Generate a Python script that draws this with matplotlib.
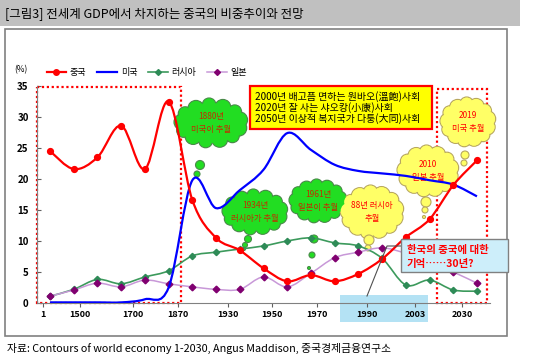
import numpy as np
import matplotlib
matplotlib.use("Agg")
import matplotlib.pyplot as plt
from matplotlib.path import Path
from matplotlib.patches import PathPatch, Rectangle, Circle, Ellipse
from matplotlib.lines import Line2D
from matplotlib.transforms import Affine2D

plt.rcParams['font.family'] = ['Noto Sans CJK KR', 'DejaVu Sans']

# share of world GDP (%)
china = [24.5, 21.6, 23.5, 28.6, 21.6, 32.5, 16.6, 10.5, 8.5, 5.6, 3.5, 4.5, 3.5, 4.7, 7.1, 10.6, 13.5, 19.0, 23.0]
usa = [0.1, 0.1, 0.1, 0.1, 0.6, 2.5, 19.8, 15.3, 18.2, 21.5, 27.4, 24.7, 22.3, 21.3, 20.9, 20.5, 19.8, 19.1, 17.2]
russia = [1.1, 2.2, 3.8, 3.1, 4.2, 5.2, 7.6, 8.2, 8.7, 9.2, 10.0, 10.5, 9.7, 9.2, 7.2, 2.9, 3.7, 2.1, 1.9]
japan = [1.1, 2.1, 3.2, 2.6, 3.7, 3.1, 2.6, 2.2, 2.2, 4.2, 2.6, 4.8, 7.3, 8.2, 8.9, 8.0, 6.5, 5.0, 3.2]
names = ['중국', '미국', '러시아', '일본']
xlabels = ['1', '1500', '1700', '1870', '1930', '1950', '1970', '1990', '2003', '2030']
xtick_pos = [-0.3, 1.26, 3.5, 5.4, 7.5, 9.36, 11.26, 13.36, 15.39, 17.37]

idx = np.arange(len(china))


def smooth(x, y):
    # excel-like smoothed line as cubic bezier segments
    verts = [(x[0], y[0])]
    codes = [Path.MOVETO]
    n = len(x)
    for i in range(n - 1):
        x0, y0 = (x[i - 1], y[i - 1]) if i > 0 else (x[i], y[i])
        x3, y3 = (x[i + 2], y[i + 2]) if i + 2 < n else (x[i + 1], y[i + 1])
        c1 = (x[i] + (x[i + 1] - x0) / 6, y[i] + (y[i + 1] - y0) / 6)
        c2 = (x[i + 1] - (x3 - x[i]) / 6, y[i + 1] - (y3 - y[i]) / 6)
        verts += [c1, c2, (x[i + 1], y[i + 1])]
        codes += [Path.CURVE4] * 3
    return Path(verts, codes)


fig = plt.figure(figsize=(5.34, 3.59), dpi=100)
px = Affine2D().scale(1 / 534, -1 / 359).translate(0, 1) + fig.transFigure

ax = fig.add_axes([37 / 534, (359 - 303) / 359, (490 - 37) / 534, (303 - 86) / 359])
ax.patch.set_visible(False)
ax.set_xlim(-0.55, 18.55)
ax.set_ylim(0, 35)

# frame, title bar, source
ax.add_patch(Rectangle((0, 0), 520, 26, transform=px, facecolor='#c0c0c0', edgecolor='none', clip_on=False, zorder=0))
ax.add_patch(Rectangle((5, 29), 502, 307, transform=px, facecolor='none', edgecolor='#808080', lw=1.2, clip_on=False, zorder=0))
ax.text(5, 14, '[그림3] 전세계 GDP에서 차지하는 중국의 비중추이와 전망', transform=px, fontsize=9, va='center', ha='left')
ax.text(7, 348, '자료: Contours of world economy 1-2030, Angus Maddison, 중국경제금융연구소', transform=px, fontsize=7.8, va='center', ha='left')

# highlighted band under 1990-2003
ax.add_patch(Rectangle((340, 295), 88, 27, transform=px, facecolor='#b4e2f4', edgecolor='none', clip_on=False, zorder=1))

# dotted red boxes
for (x0, y0, x1, y1) in [(37, 87, 181, 303), (437, 89, 487, 303)]:
    ax.add_patch(Rectangle((x0, y0), x1 - x0, y1 - y0, transform=px, facecolor='none', edgecolor='#ff0000',
                           lw=1.6, linestyle=(0, (1, 1.2)), clip_on=False, zorder=2))


def cloud(cx, cy, w, h, fc, ec, lines, tc, bubbles):
    a, b = w / 2, h / 2
    r = min(a, b) * 0.32
    lobes = []
    for k, t in enumerate(np.linspace(0, 2 * np.pi, 13, endpoint=False)):
        rr = r * (1.0 if k % 2 == 0 else 0.85)
        lobes.append((cx + (a - rr) * np.cos(t + 0.3), cy + (b - rr) * np.sin(t + 0.3), rr))
    for (lx, ly, rr) in lobes:
        ax.add_patch(Circle((lx, ly), rr, transform=px, facecolor=fc, edgecolor=ec, lw=0.9, clip_on=False, zorder=3))
    for (lx, ly, rr) in lobes:
        ax.add_patch(Circle((lx, ly), rr - 0.6, transform=px, facecolor=fc, edgecolor='none', clip_on=False, zorder=3.1))
    ax.add_patch(Ellipse((cx, cy), w - 2 * r + 6, h - 2 * r + 6, transform=px, facecolor=fc, edgecolor='none', clip_on=False, zorder=3.1))
    for (bx, by, br) in bubbles:
        ax.add_patch(Circle((bx, by), br, transform=px, facecolor=fc, edgecolor=ec, lw=0.8, clip_on=False, zorder=3.1))
    ax.text(cx, cy, lines, transform=px, ha='center', va='center', fontsize=6, color=tc,
            linespacing=1.5, zorder=3.2, style='italic')


green_fc, green_ec = '#22dd22', '#4a8a4a'
yel_fc, yel_ec = '#ffff66', '#b8a860'
cloud(211, 123, 74, 50, green_fc, green_ec, '1880년\n미국이 추월', '#c03000', [(200, 165, 4.5), (197, 174, 3)])
cloud(255, 212, 66, 46, green_fc, green_ec, '1934년\n러시아가 추월', '#c03000', [(248, 239, 3.5), (245, 245, 2.5), (244, 249, 1.5)])
cloud(318, 201, 58, 44, green_fc, green_ec, '1961년\n일본이 추월', '#c03000', [(314, 239, 4), (312, 255, 3), (309, 268, 1.5)])
cloud(372, 212, 64, 54, yel_fc, yel_ec, '88년 러시아\n추월', '#ff0000', [(369, 240, 5), (368, 248, 3)])
cloud(428, 171, 62, 52, yel_fc, yel_ec, '2010\n일본 추월', '#ff0000', [(426, 202, 5), (425, 210, 3), (424, 217, 1.5)])
cloud(468, 122, 56, 50, yel_fc, yel_ec, '2019\n미국 추월', '#ff0000', [(465, 155, 4), (464, 163, 3)])

# yellow note box
ax.add_patch(Rectangle((250, 86), 182, 43, transform=px, facecolor='#ffff00', edgecolor='#ff0000', lw=1.6, clip_on=False, zorder=3))
notes = ['2000년 배고픔 면하는 원바오(溫飽)사회', '2020년 잘 사는 샤오캉(小康)사회', '2050년 이상적 복지국가 다퉁(大同)사회']
for k, s in enumerate(notes):
    ax.text(255, 97 + 11 * k, s, transform=px, fontsize=7.2, va='center', ha='left', zorder=3.2)

# series lines
ax.add_patch(PathPatch(smooth(idx, russia), facecolor='none', edgecolor='#3c9a5c', lw=1.2, zorder=4))
ax.add_patch(PathPatch(smooth(idx, japan), facecolor='none', edgecolor='#c898d8', lw=1.1, zorder=4))
ax.add_patch(PathPatch(smooth(idx, usa), facecolor='none', edgecolor='#0000ff', lw=1.6, zorder=4.2))
ax.add_patch(PathPatch(smooth(idx, china), facecolor='none', edgecolor='#ff0000', lw=1.6, zorder=4.3))
ax.plot(idx, russia, 'D', color='#2e8b57', ms=3.2, zorder=4.1)
ax.plot(idx, japan, 'D', color='#800070', ms=3.4, zorder=4.1)
ax.plot(idx, china, 'o', color='#ff0000', ms=4.2, zorder=4.4)

handles = [Line2D([], [], color='#ff0000', lw=1.6, marker='o', ms=4),
           Line2D([], [], color='#0000ff', lw=1.6),
           Line2D([], [], color='#3c9a5c', lw=1.2, marker='D', ms=3, mfc='#2e8b57', mec='#2e8b57'),
           Line2D([], [], color='#c898d8', lw=1.1, marker='D', ms=3, mfc='#800070', mec='#800070')]
ax.legend(handles, names, loc='center left', bbox_to_anchor=(42, 73), bbox_transform=px, ncol=4,
          frameon=False, fontsize=6.5, handlelength=2.2, handletextpad=0.4, columnspacing=1.2, borderpad=0)
ax.text(21, 70, '(%)', transform=px, fontsize=6, ha='center', va='center')

# callout
ax.plot([401, 387, 367], [246, 246, 296], transform=px, color='#505050', lw=0.8, clip_on=False, zorder=5)
ax.add_patch(Rectangle((401, 239), 107, 33, transform=px, facecolor='#cdeefa', edgecolor='#808080', lw=1.0, clip_on=False, zorder=6))
ax.text(407, 250, '한국의 중국에 대한', transform=px, fontsize=7.5, color='#ff0000', fontweight='bold', va='center', zorder=6.1)
ax.text(407, 264, '기억……30년?', transform=px, fontsize=7.5, color='#ff0000', fontweight='bold', va='center', zorder=6.1)

# axes styling
for s in ['top', 'right']:
    ax.spines[s].set_visible(False)
ax.spines['left'].set_color('#808080')
ax.spines['bottom'].set_color('#808080')
ax.set_yticks(range(0, 36, 5))
ax.tick_params(axis='y', direction='in', length=3, labelsize=7, pad=6, color='#606060')
ax.set_xticks(xtick_pos)
ax.set_xticklabels(xlabels)
ax.tick_params(axis='x', direction='out', length=3, labelsize=6.5, pad=2, color='#606060')
for lab in ax.get_xticklabels() + ax.get_yticklabels():
    lab.set_fontweight('bold')

fig.savefig('out.png', dpi=100)
